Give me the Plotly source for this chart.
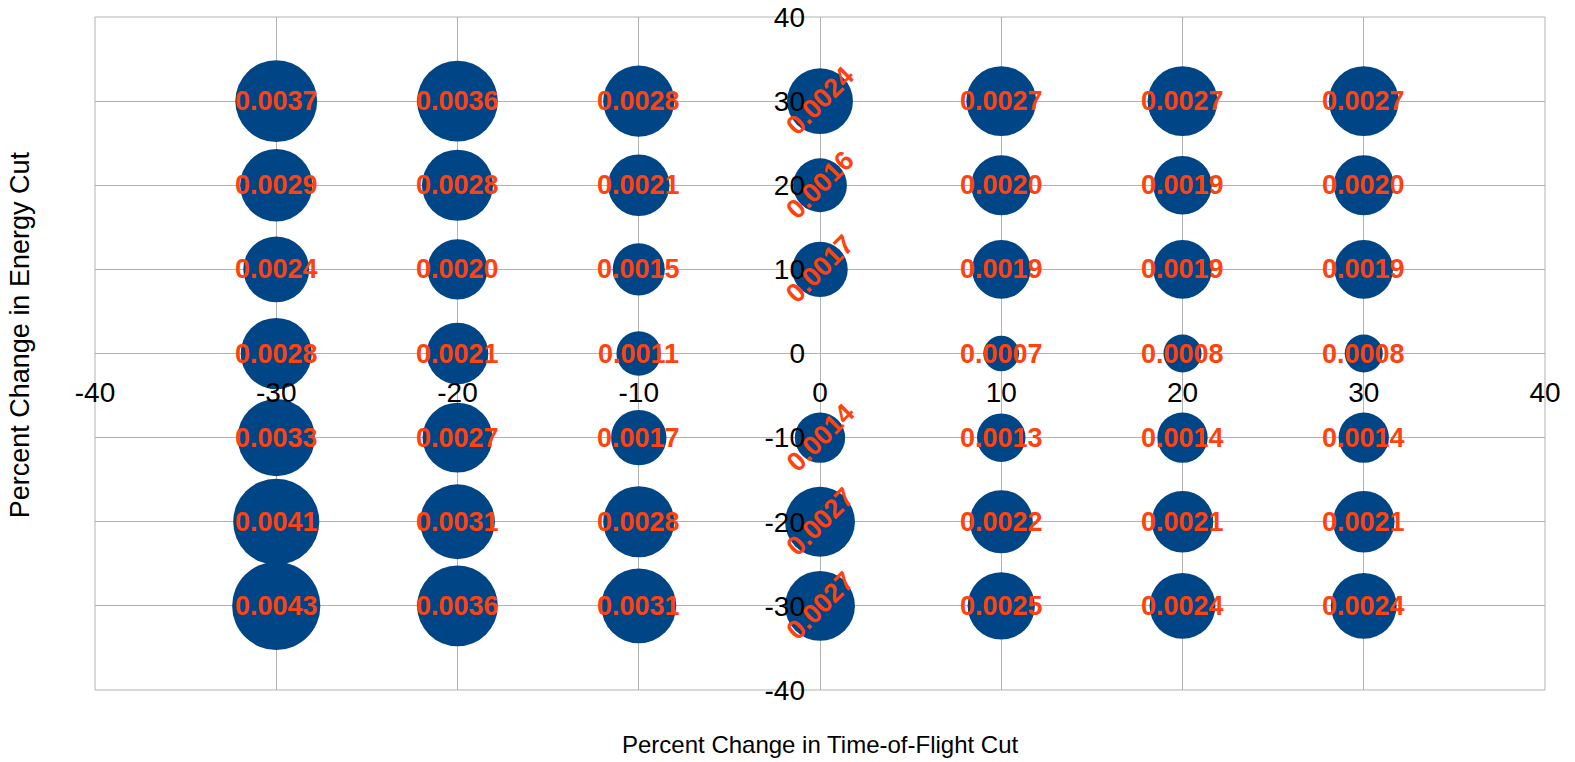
import plotly.graph_objects as go

# Grid of cut variations (percent change) and the resulting values
tof_change = [-30, -20, -10, 0, 10, 20, 30]
energy_change = [30, 20, 10, 0, -10, -20, -30]

# One row per energy-cut level (top to bottom), one entry per time-of-flight level
row_e30 = [0.0037, 0.0036, 0.0028, 0.0024, 0.0027, 0.0027, 0.0027]
row_e20 = [0.0029, 0.0028, 0.0021, 0.0016, 0.0020, 0.0019, 0.0020]
row_e10 = [0.0024, 0.0020, 0.0015, 0.0017, 0.0019, 0.0019, 0.0019]
row_e0 = [0.0028, 0.0021, 0.0011, None, 0.0007, 0.0008, 0.0008]
row_em10 = [0.0033, 0.0027, 0.0017, 0.0014, 0.0013, 0.0014, 0.0014]
row_em20 = [0.0041, 0.0031, 0.0028, 0.0027, 0.0022, 0.0021, 0.0021]
row_em30 = [0.0043, 0.0036, 0.0031, 0.0027, 0.0025, 0.0024, 0.0024]
rows = [row_e30, row_e20, row_e10, row_e0, row_em10, row_em20, row_em30]

axis_ticks = [-40, -30, -20, -10, 0, 10, 20, 30, 40]

BUBBLE = "#004586"
LABEL = "#FF420E"
GRID = "#b3b3b3"
FONT = "Liberation Sans"

xs, ys, vals = [], [], []
for ey, row in zip(energy_change, rows):
    for tx, v in zip(tof_change, row):
        if v is None:
            continue
        xs.append(tx)
        ys.append(ey)
        vals.append(v)

fig = go.Figure()
fig.add_trace(go.Scatter(
    x=xs, y=ys, mode="markers",
    marker=dict(size=vals, sizemode="area", sizeref=1.0 / 905000,
                color=BUBBLE, line=dict(width=0), opacity=1),
    hoverinfo="x+y+text", text=[f"{v:.4f}" for v in vals],
    showlegend=False,
))

annotations = []
for x, y, v in zip(xs, ys, vals):
    annotations.append(dict(
        x=x, y=y, xref="x", yref="y", text=f"{v:.4f}", showarrow=False,
        textangle=-45 if x == 0 else 0,
        font=dict(family=FONT, size=27, color=LABEL, weight="bold"),
        xanchor="center", yanchor="middle",
    ))

annotations.append(dict(
    x=0.5, y=-0.0806, xref="paper", yref="paper", yanchor="middle",
    text="Percent Change in Time-of-Flight Cut", showarrow=False,
    font=dict(family=FONT, size=24, color="#000000"),
))
annotations.append(dict(
    x=-0.052, y=0.528, xref="paper", yref="paper", xanchor="center", yanchor="middle",
    text="Percent Change in Energy Cut", showarrow=False, textangle=-90,
    font=dict(family=FONT, size=27, color="#000000"),
))

axis_common = dict(
    range=[-40, 40], tickvals=axis_ticks, ticktext=[str(t) for t in axis_ticks],
    showgrid=True, gridcolor=GRID, gridwidth=1,
    zeroline=True, zerolinecolor=GRID, zerolinewidth=1,
    showline=False, ticks="", anchor="free", position=0.5,
    tickfont=dict(family=FONT, size=28, color="#000000"),
    fixedrange=True, automargin=False,
)

fig.update_layout(
    width=1575, height=762,
    margin=dict(l=95, r=30, t=17, b=72),
    paper_bgcolor="white", plot_bgcolor="white",
    xaxis=dict(**axis_common, ticklabelstandoff=19),
    yaxis=dict(**axis_common, ticklabelstandoff=15),
    annotations=annotations,
    shapes=[dict(type="rect", xref="paper", yref="paper", x0=0, y0=0, x1=1, y1=1,
                 line=dict(color=GRID, width=1), fillcolor="rgba(0,0,0,0)", layer="below")],
)

fig.write_html("out.html")
